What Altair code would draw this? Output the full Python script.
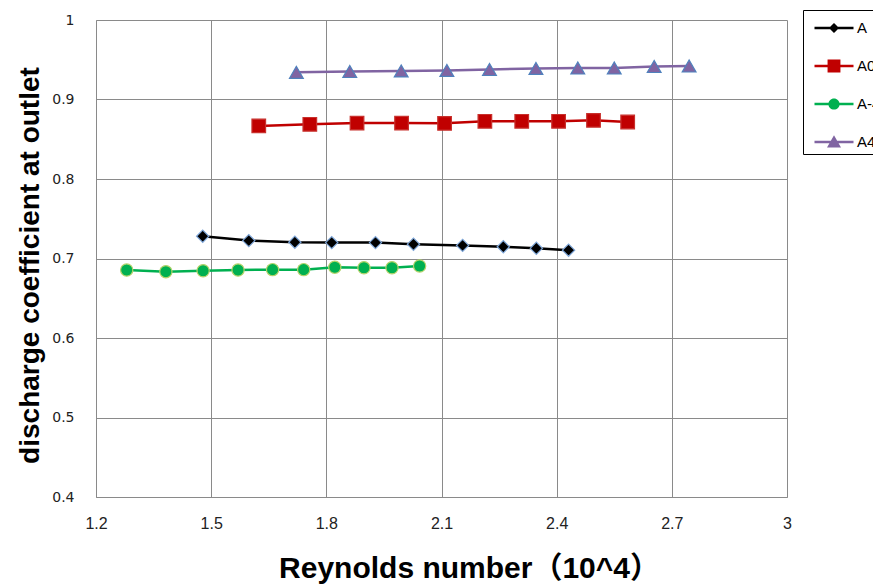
import altair as alt
import pandas as pd

# ---- data ----
series_names = ["A", "A0", "A-4", "A4"]

a_x = [1.478, 1.598, 1.718, 1.814, 1.928, 2.027, 2.155, 2.261, 2.347, 2.431]
a_y = [0.728, 0.7225, 0.7205, 0.720, 0.720, 0.718, 0.7165, 0.7148, 0.7128, 0.7105]

a0_x = [1.624, 1.757, 1.880, 1.996, 2.108, 2.213, 2.309, 2.405, 2.496, 2.585]
a0_y = [0.8667, 0.8688, 0.8704, 0.8704, 0.8700, 0.8726, 0.8726, 0.8726, 0.8738, 0.8717]

am4_x = [1.280, 1.382, 1.479, 1.570, 1.660, 1.741, 1.822, 1.898, 1.971, 2.043]
am4_y = [0.6855, 0.6834, 0.6846, 0.6855, 0.6860, 0.6860, 0.6890, 0.6884, 0.6884, 0.6906]

a4_x = [1.722, 1.861, 1.995, 2.114, 2.225, 2.346, 2.455, 2.550, 2.654, 2.745]
a4_y = [0.9342, 0.9352, 0.9359, 0.9365, 0.9377, 0.9390, 0.9396, 0.9396, 0.9415, 0.9421]

x_ticks = [1.2, 1.5, 1.8, 2.1, 2.4, 2.7, 3.0]
y_ticks = [0.4, 0.5, 0.6, 0.7, 0.8, 0.9, 1.0]

rows = []
for name, xs, ys in [("A", a_x, a_y), ("A0", a0_x, a0_y), ("A-4", am4_x, am4_y), ("A4", a4_x, a4_y)]:
    for i, (xv, yv) in enumerate(zip(xs, ys)):
        rows.append({"series": name, "x": xv, "y": yv, "order": i})
df = pd.DataFrame(rows)

# ---- styles ----
line_colors = ["#000000", "#c00000", "#00b050", "#8064a2"]
marker_style = {
    "A": dict(line="#000000", shape="diamond", fill="#000000", stroke="#7ea6d8", size=150),
    "A0": dict(line="#c00000", shape="square", fill="#c00000", stroke="#c8302c", size=185),
    "A-4": dict(line="#00b050", shape="circle", fill="#00b050", stroke="#b5d36a", size=150),
    "A4": dict(line="#8064a2", shape="triangle-up", fill="#8064a2", stroke="#4f81bd", size=190),
}

# legend symbols: line segment + marker (custom SVG paths, unit = half symbol size)
LINE = "M-1.393,-0.09 L1.393,-0.09 L1.393,0.09 L-1.393,0.09 Z "
legend_shapes = [
    LINE + "M0,-0.36 L0.36,0 L0,0.36 L-0.36,0 Z",
    LINE + "M-0.46,-0.46 L0.46,-0.46 L0.46,0.46 L-0.46,0.46 Z",
    LINE + "M-0.4,0 A0.4,0.4 0 1,1 0.4,0 A0.4,0.4 0 1,1 -0.4,0 Z",
    LINE + "M0,-0.48 L0.5,0.4 L-0.5,0.4 Z",
]

x_scale = alt.Scale(domain=[1.2, 3.0], nice=False, zero=False)
y_scale = alt.Scale(domain=[0.4, 1.0], nice=False, zero=False)

x_enc = alt.X(
    "x:Q",
    scale=x_scale,
    axis=alt.Axis(
        values=x_ticks,
        format="~g",
        title="Reynolds number（10^4）",
        titleFont="Liberation Sans, Noto Sans CJK SC",
        titleFontSize=30,
        titleFontWeight="bold",
        titleColor="#000000",
        titleX=373,
        titleY=71,
        titleBaseline="middle",
        titleAlign="center",
        labelFont="Liberation Sans Narrow, Liberation Sans",
        labelFontSize=16,
        labelColor="#222222",
        labelPadding=18,
        labelFlush=False,
        ticks=False,
        tickSize=0,
        grid=True,
        gridColor="#8a8a8a",
        gridWidth=1,
        domainColor="#8a8a8a",
        domainWidth=1,
    ),
)
y_enc = alt.Y(
    "y:Q",
    scale=y_scale,
    axis=alt.Axis(
        values=y_ticks,
        format="~g",
        title="discharge coefficient at outlet",
        titleFont="Liberation Sans",
        titleFontSize=28,
        titleFontWeight="bold",
        titleColor="#000000",
        titleX=-66,
        titleY=245,
        titleBaseline="middle",
        titleAlign="center",
        titleAngle=270,
        labelFont="DejaVu Sans",
        labelFontSize=14,
        labelColor="#222222",
        labelPadding=22,
        labelFlush=False,
        ticks=False,
        tickSize=0,
        grid=True,
        gridColor="#8a8a8a",
        gridWidth=1,
        domainColor="#8a8a8a",
        domainWidth=1,
    ),
)

base = alt.Chart(df)

# axes carrier (invisible)
axes_layer = base.mark_point(opacity=0, size=0).encode(x=x_enc, y=y_enc)

series_layers = []
for name in series_names:
    st = marker_style[name]
    sub = base.transform_filter(alt.datum.series == name)
    series_layers.append(
        sub.mark_line(strokeWidth=2.5, color=st["line"]).encode(x="x:Q", y="y:Q", order="order:Q")
    )
for name in series_names:
    st = marker_style[name]
    sub = base.transform_filter(alt.datum.series == name)
    series_layers.append(
        sub.mark_point(
            shape=st["shape"],
            filled=True,
            fill=st["fill"],
            stroke=st["stroke"],
            strokeWidth=1.2,
            size=st["size"],
            opacity=1,
        ).encode(x="x:Q", y="y:Q")
    )

legend_props = dict(
    title=None,
    orient="none",
    legendX=707,
    legendY=-10,
    strokeColor="#000000",
    fillColor="#ffffff",
    padding=4,
    symbolSize=784,
    symbolOffset=13,
    symbolOpacity=1,
    symbolStrokeWidth=0,
    labelFont="Liberation Sans",
    labelFontSize=15,
    labelColor="#000000",
    labelOffset=9,
    rowPadding=16,
)

legend_layer = base.mark_point(filled=True, opacity=0).encode(
    x="x:Q",
    y="y:Q",
    color=alt.Color("series:N", scale=alt.Scale(domain=series_names, range=line_colors), legend=alt.Legend(**legend_props)),
    shape=alt.Shape("series:N", scale=alt.Scale(domain=series_names, range=legend_shapes), legend=alt.Legend(**legend_props)),
)

chart = (
    alt.layer(axes_layer, *series_layers, legend_layer)
    .properties(
        width=691,
        height=477,
        autosize=alt.AutoSizeParams(type="none"),
        padding={"left": 88, "top": 12, "right": 86, "bottom": 89},
        background="#ffffff",
    )
    .configure_view(stroke=None)
    .configure_legend(strokeWidth=1)
)

chart.save("out.html", embed_options={"renderer": "svg", "actions": False})
